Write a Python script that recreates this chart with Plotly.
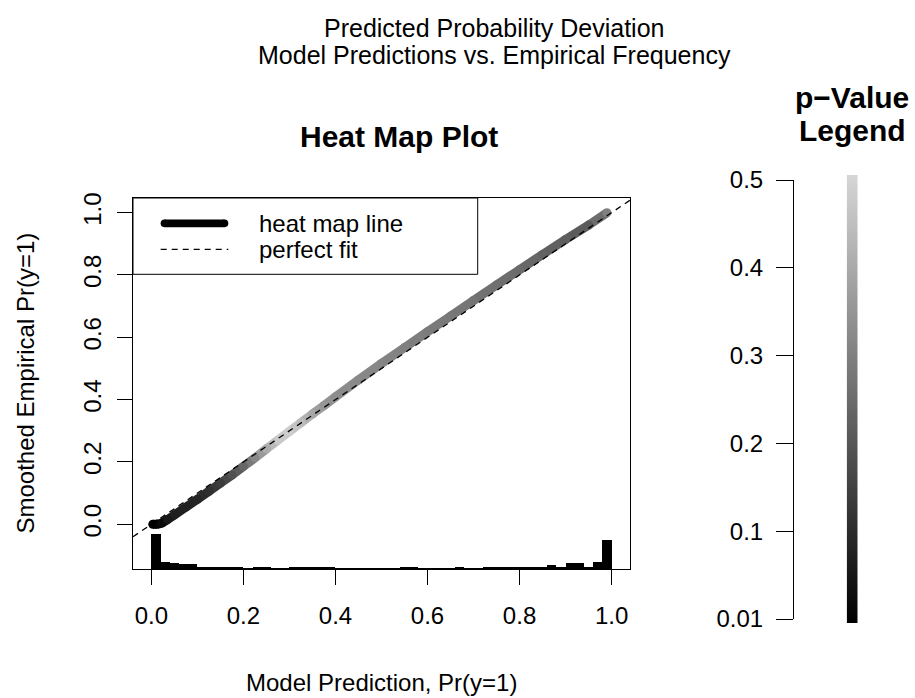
import numpy as np
import plotly.graph_objects as go
from plotly.colors import sample_colorscale

# ---------------- data ----------------
pred_x = [0.003, 0.012, 0.022, 0.035, 0.05, 0.075, 0.10, 0.125, 0.15, 0.175, 0.20, 0.225,
          0.25, 0.275, 0.30, 0.325, 0.35, 0.375, 0.40, 0.45, 0.50, 0.55, 0.60, 0.65,
          0.70, 0.75, 0.80, 0.85, 0.90, 0.95, 0.99]
emp_y = [0.000, 0.000, 0.003, 0.015, 0.030, 0.055, 0.080, 0.106, 0.132, 0.158, 0.186, 0.213,
         0.242, 0.270, 0.298, 0.326, 0.354, 0.381, 0.409, 0.463, 0.516, 0.567, 0.618, 0.668,
         0.718, 0.768, 0.817, 0.866, 0.914, 0.960, 1.000]
p_val = [0.01, 0.015, 0.03, 0.06, 0.075, 0.08, 0.09, 0.11, 0.14, 0.19, 0.24, 0.32,
         0.40, 0.47, 0.48, 0.44, 0.39, 0.35, 0.33, 0.32, 0.31, 0.30, 0.29, 0.28,
         0.27, 0.26, 0.25, 0.23, 0.22, 0.21, 0.30]

hist_bin_start = [i / 50 for i in range(50)]
hist_counts = [105, 22, 17, 15, 15, 7, 7, 5, 7, 4, 3, 4, 7, 3, 2, 6, 4, 4, 6, 4,
               2, 2, 2, 2, 2, 3, 3, 4, 5, 3, 3, 2, 3, 4, 2, 3, 5, 5, 4, 5,
               6, 5, 4, 13, 4, 17, 18, 7, 20, 87]

x_ticks = [0.0, 0.2, 0.4, 0.6, 0.8, 1.0]
y_ticks = [0.0, 0.2, 0.4, 0.6, 0.8, 1.0]
pval_tick_vals = [0.01, 0.1, 0.2, 0.3, 0.4, 0.5]
pval_tick_text = ["0.01", "0.1", "0.2", "0.3", "0.4", "0.5"]

# ---------------- style ----------------
W, H = 915, 698
FONT = "Liberation Sans, Arial, Helvetica, sans-serif"
GRAY = [[0.0, "rgb(0,0,0)"], [1.0, "rgb(214,214,214)"]]
X_RANGE = [-0.04, 1.04]
Y_RANGE = [-0.1435, 1.047]
HIST_SCALE = 0.112 / 105.0
BAND_W = 9


def px_x(p):
    return p / W


def px_y(p):
    return 1 - p / H


# position of p-values along the (evenly labelled) legend bar
tick_pos = np.linspace(0, 1, len(pval_tick_vals))
t_vals = np.interp(p_val, pval_tick_vals, tick_pos)

fig = go.Figure()

# histogram of predictions along the bottom
fig.add_trace(go.Bar(
    x=[b + 0.01 for b in hist_bin_start],
    y=[c * HIST_SCALE for c in hist_counts],
    base=Y_RANGE[0], width=0.02,
    marker=dict(color="black", line=dict(width=0)),
    xaxis="x", yaxis="y", showlegend=False, hoverinfo="skip"))

# heat map line: coloured segments
seg_t = [(t_vals[i] + t_vals[i + 1]) / 2 for i in range(len(pred_x) - 1)]
seg_cols = sample_colorscale(GRAY, seg_t)
for i in range(len(pred_x) - 1):
    fig.add_trace(go.Scatter(
        x=[pred_x[i], pred_x[i + 1]], y=[emp_y[i], emp_y[i + 1]],
        mode="lines", line=dict(color=seg_cols[i], width=BAND_W),
        xaxis="x", yaxis="y", showlegend=False, hoverinfo="skip"))
fig.add_trace(go.Scatter(
    x=pred_x, y=emp_y, mode="markers",
    marker=dict(size=BAND_W, color=list(t_vals), colorscale=GRAY, cmin=0, cmax=1,
                line=dict(width=0)),
    xaxis="x", yaxis="y", showlegend=False, hoverinfo="skip"))

# perfect fit line
fig.add_trace(go.Scatter(
    x=X_RANGE, y=X_RANGE, mode="lines",
    line=dict(color="black", width=1.3, dash="6px,5px"),
    xaxis="x", yaxis="y", showlegend=False, hoverinfo="skip"))

# colour legend gradient
fig.add_trace(go.Heatmap(
    z=[[v] for v in tick_pos], x=[0], y=list(range(len(pval_tick_vals))),
    colorscale=GRAY, zmin=0, zmax=1, zsmooth="best", showscale=False,
    xaxis="x3", yaxis="y3", hoverinfo="skip"))

# invisible trace so the legend axis is drawn
fig.add_trace(go.Scatter(
    x=[0], y=[0], mode="markers", marker=dict(opacity=0),
    xaxis="x2", yaxis="y2", showlegend=False, hoverinfo="skip"))

axis_common = dict(linecolor="black", linewidth=1, tickcolor="black", tickwidth=1,
                   showgrid=False, zeroline=False, automargin=False,
                   tickfont=dict(family=FONT, size=24, color="black"))

fig.update_layout(
    width=W, height=H, autosize=False,
    margin=dict(l=0, r=0, t=0, b=0, pad=0, autoexpand=False),
    paper_bgcolor="white", plot_bgcolor="rgba(0,0,0,0)",
    showlegend=False, bargap=0,
    xaxis=dict(domain=[px_x(133), px_x(630)], range=X_RANGE, tickvals=x_ticks,
               ticktext=[f"{v:.1f}" for v in x_ticks], ticks="outside", ticklen=15,
               showline=True, mirror=True, anchor="y", ticklabelstandoff=10,
               **axis_common),
    yaxis=dict(domain=[px_y(569), px_y(198)], range=Y_RANGE, tickvals=y_ticks,
               ticktext=[f"{v:.1f}" for v in y_ticks], ticks="outside", ticklen=15,
               tickangle=-90, showline=True, mirror=True, anchor="x",
               ticklabelstandoff=6, **axis_common),
    xaxis2=dict(domain=[px_x(794), px_x(800)], range=[0, 1], visible=False, anchor="y2",
                automargin=False),
    yaxis2=dict(domain=[px_y(619), px_y(180)], range=[0, len(pval_tick_vals) - 1],
                tickvals=list(range(len(pval_tick_vals))), ticktext=pval_tick_text,
                ticks="outside", ticklen=17, showline=True, anchor="x2", side="left",
                ticklabelstandoff=8, **axis_common),
    xaxis3=dict(domain=[px_x(846.7), px_x(857.7)], range=[-0.5, 0.5], visible=False,
                anchor="y3", automargin=False),
    yaxis3=dict(domain=[px_y(623), px_y(175)], range=[0, len(pval_tick_vals) - 1],
                visible=False, anchor="x3", automargin=False),
)

# legend box inside the plot
shapes = [
    dict(type="rect", xref="paper", yref="paper", x0=px_x(133), x1=px_x(477.7),
         y0=px_y(274.3), y1=px_y(198), line=dict(color="black", width=1),
         fillcolor="white", layer="above"),
    dict(type="line", xref="paper", yref="paper", x0=px_x(164.5), x1=px_x(224.5),
         y0=px_y(223.3), y1=px_y(223.3), line=dict(color="black", width=7.7), layer="above"),
    dict(type="line", xref="paper", yref="paper", x0=px_x(160.7), x1=px_x(228.3),
         y0=px_y(249.3), y1=px_y(249.3), line=dict(color="black", width=1.3, dash="6px,5px"),
         layer="above"),
]
for cx in (164.5, 224.5):
    shapes.append(dict(type="circle", xref="paper", yref="paper",
                       x0=px_x(cx - 3.85), x1=px_x(cx + 3.85),
                       y0=px_y(223.3 + 3.85), y1=px_y(223.3 - 3.85),
                       fillcolor="black", line=dict(width=0), layer="above"))
fig.update_layout(shapes=shapes)

ann = [
    dict(text="heat map line", x=px_x(256.7), y=px_y(223.3), xanchor="left",
         yanchor="middle", font=dict(size=24)),
    dict(text="perfect fit", x=px_x(256.7), y=px_y(249.3), xanchor="left",
         yanchor="middle", font=dict(size=24)),
    dict(text="Predicted Probability Deviation", x=px_x(494), y=px_y(28),
         xanchor="center", yanchor="middle", font=dict(size=25)),
    dict(text="Model Predictions vs. Empirical Frequency", x=px_x(494), y=px_y(55),
         xanchor="center", yanchor="middle", font=dict(size=25)),
    dict(text="<b>Heat Map Plot</b>", x=px_x(399), y=px_y(136),
         xanchor="center", yanchor="middle", font=dict(size=30)),
    dict(text="<b>p\u2212Value</b>", x=px_x(852), y=px_y(97),
         xanchor="center", yanchor="middle", font=dict(size=30)),
    dict(text="<b>Legend</b>", x=px_x(852), y=px_y(131),
         xanchor="center", yanchor="middle", font=dict(size=30)),
    dict(text="Model Prediction, Pr(y=1)", x=px_x(381.5), y=px_y(682),
         xanchor="center", yanchor="middle", font=dict(size=24)),
    dict(text="Smoothed Empirical Pr(y=1)", x=px_x(25), y=px_y(383.5),
         xanchor="center", yanchor="middle", textangle=-90, font=dict(size=24)),
]
for a in ann:
    a.update(xref="paper", yref="paper", showarrow=False)
    a["font"].update(family=FONT, color="black")
fig.update_layout(annotations=ann)

fig.write_html("out.html", config={"displayModeBar": False},
               post_script="document.body.style.margin='0px';document.body.style.overflow='hidden';")
